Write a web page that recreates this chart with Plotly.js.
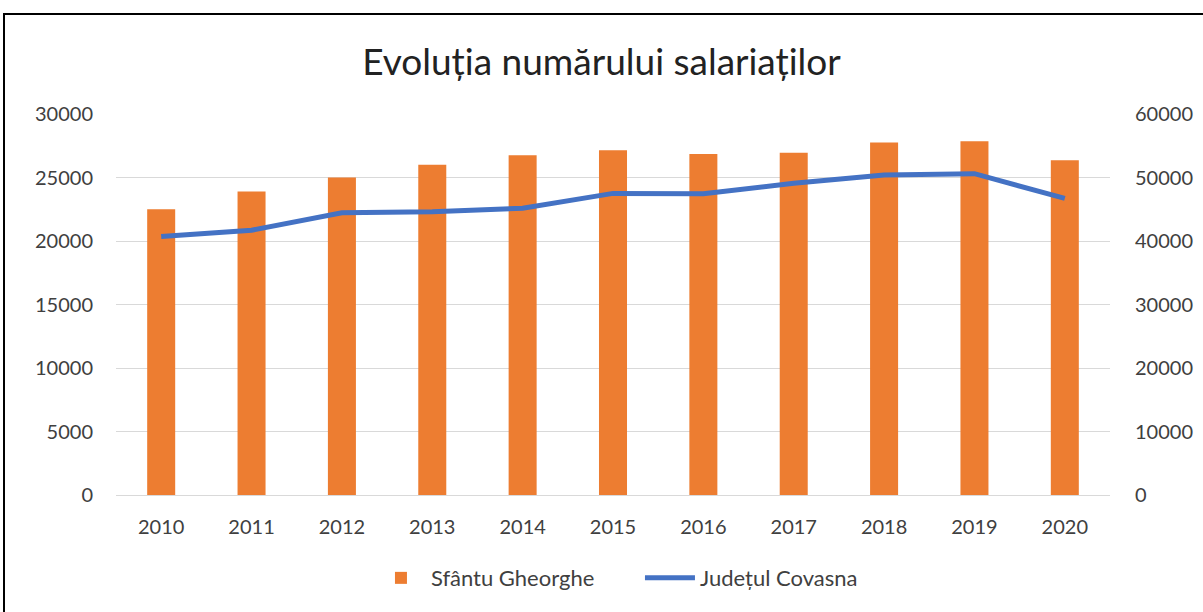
<!DOCTYPE html>
<html>
<head>
<meta charset="utf-8">
<script src="https://cdn.plot.ly/plotly-3.0.1.min.js"></script>
<style>
  html, body { margin: 0; padding: 0; background: #fff; }
  #wrap { position: relative; width: 1203px; height: 612px; overflow: hidden; }
  #chart { width: 1203px; height: 612px; }
  #frame { position: absolute; left: 3px; top: 13px; width: 1300px; height: 700px;
           border-left: 2px solid #000; border-top: 2px solid #000; pointer-events: none; }
</style>
</head>
<body>
<div id="wrap">
  <div id="chart"></div>
  <div id="frame"></div>
</div>
<script>
const years = ['2010','2011','2012','2013','2014','2015','2016','2017','2018','2019','2020'];
const sfantuGheorghe = [22500, 23900, 25000, 26000, 26750, 27150, 26850, 26950, 27750, 27850, 26350];
const judetulCovasna = [40700, 41700, 44450, 44600, 45150, 47500, 47450, 49100, 50400, 50600, 46700];
const leftTicks = [0, 5000, 10000, 15000, 20000, 25000, 30000];
const rightTicks = [0, 10000, 20000, 30000, 40000, 50000, 60000];

const FONT = 'Lato, "Open Sans", sans-serif';
const TXT = '#404040';

const traces = [
  {
    type: 'bar', name: 'Sfântu Gheorghe', x: years, y: sfantuGheorghe,
    marker: { color: '#ED7D31' }, yaxis: 'y'
  },
  {
    type: 'scatter', mode: 'lines', name: 'Județul Covasna', x: years, y: judetulCovasna,
    line: { color: '#4472C4', width: 5 }, yaxis: 'y2'
  }
];

const layout = {
  width: 1203, height: 612,
  margin: { l: 116, r: 93, t: 114, b: 117 },
  paper_bgcolor: '#fff', plot_bgcolor: '#fff',
  font: { family: FONT, size: 20, color: TXT },
  title: { text: 'Evoluția numărului salariaților', font: { family: FONT, size: 37, color: '#222' },
           x: 0.5, xanchor: 'center', y: 0.898, yanchor: 'middle', yref: 'container' },
  bargap: 0.69,
  showlegend: true,
  legend: { orientation: 'h', x: 0.2565, xanchor: 'left', y: -0.218, yanchor: 'middle',
            font: { family: FONT, size: 22, color: TXT }, itemwidth: 50,
            entrywidth: 204, traceorder: 'normal' },
  xaxis: { type: 'category', showgrid: false, showline: true, linecolor: '#D9D9D9', linewidth: 1,
           ticks: '', ticklabelstandoff: 14, tickfont: { size: 20, color: TXT }, zeroline: false },
  yaxis: { range: [0, 30000], tickvals: leftTicks, ticktext: leftTicks.map(String),
           showgrid: true, gridcolor: '#D9D9D9', gridwidth: 1, zeroline: false, showline: false,
           ticks: '', ticklabelstandoff: 22, tickfont: { size: 20, color: TXT } },
  yaxis2: { range: [0, 60000], tickvals: rightTicks, ticktext: rightTicks.map(String),
            overlaying: 'y', side: 'right', showgrid: false, zeroline: false, showline: false,
            ticks: '', ticklabelstandoff: 24, tickfont: { size: 20, color: TXT } }
};

Plotly.newPlot('chart', traces, layout, { displayModeBar: false, staticPlot: true });
</script>
</body>
</html>
